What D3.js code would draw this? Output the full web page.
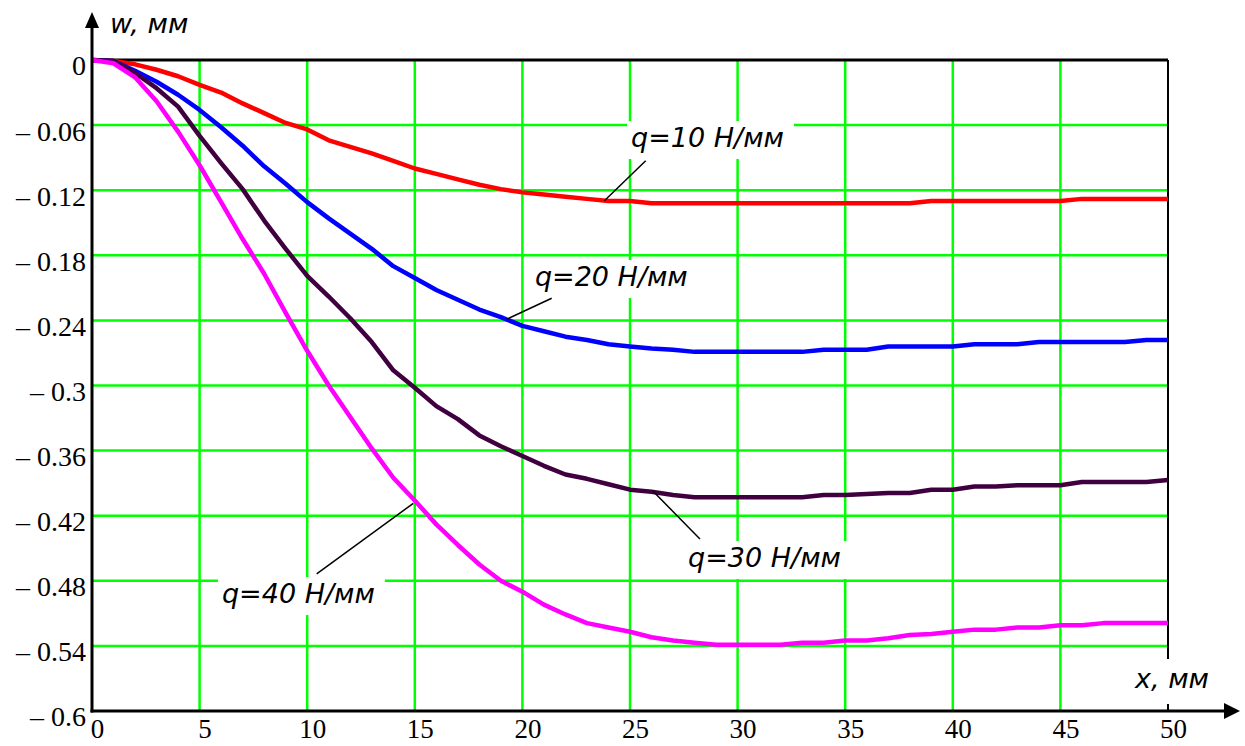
<!DOCTYPE html>
<html>
<head>
<meta charset="utf-8">
<script src="https://cdnjs.cloudflare.com/ajax/libs/d3/7.8.5/d3.min.js"></script>
<style>
body { margin: 0; background: #fff; }
</style>
</head>
<body>
<svg></svg>
<script>
// x, mm
var xValues = [0, 1, 2, 3, 4, 5, 6, 7, 8, 9, 10, 11, 12, 13, 14, 15, 16, 17, 18, 19, 20,
	21, 22, 23, 24, 25, 26, 27, 28, 29, 30, 31, 32, 33, 34, 35, 36, 37, 38, 39, 40,
	41, 42, 43, 44, 45, 46, 47, 48, 49, 50]

// w, mm for each load
var w10 = [0, -0.001, -0.004, -0.009, -0.015, -0.023, -0.030, -0.040, -0.049, -0.058, -0.064,
	-0.074, -0.080, -0.086, -0.093, -0.100, -0.105, -0.110, -0.115, -0.119, -0.122,
	-0.124, -0.126, -0.128, -0.130, -0.130, -0.132, -0.132, -0.132, -0.132, -0.132,
	-0.132, -0.132, -0.132, -0.132, -0.132, -0.132, -0.132, -0.132, -0.130, -0.130,
	-0.130, -0.130, -0.130, -0.130, -0.130, -0.128, -0.128, -0.128, -0.128, -0.128]
var w20 = [0, -0.001, -0.010, -0.020, -0.032, -0.046, -0.062, -0.079, -0.098, -0.114, -0.131,
	-0.146, -0.160, -0.174, -0.190, -0.201, -0.212, -0.221, -0.230, -0.237, -0.245,
	-0.250, -0.255, -0.258, -0.262, -0.264, -0.266, -0.267, -0.269, -0.269, -0.269,
	-0.269, -0.269, -0.269, -0.267, -0.267, -0.267, -0.264, -0.264, -0.264, -0.264,
	-0.262, -0.262, -0.262, -0.260, -0.260, -0.260, -0.260, -0.260, -0.258, -0.258]
var w30 = [0, -0.001, -0.012, -0.026, -0.043, -0.070, -0.095, -0.119, -0.148, -0.174, -0.199,
	-0.218, -0.238, -0.260, -0.286, -0.302, -0.319, -0.331, -0.346, -0.356, -0.365,
	-0.374, -0.382, -0.386, -0.391, -0.396, -0.398, -0.401, -0.403, -0.403, -0.403,
	-0.403, -0.403, -0.403, -0.401, -0.401, -0.400, -0.399, -0.399, -0.396, -0.396,
	-0.393, -0.393, -0.392, -0.392, -0.392, -0.389, -0.389, -0.389, -0.389, -0.387]
var w40 = [0, -0.003, -0.016, -0.038, -0.066, -0.097, -0.131, -0.165, -0.197, -0.233, -0.268,
	-0.300, -0.329, -0.358, -0.385, -0.406, -0.428, -0.447, -0.465, -0.480, -0.490,
	-0.502, -0.511, -0.519, -0.523, -0.527, -0.532, -0.535, -0.537, -0.539, -0.539,
	-0.539, -0.539, -0.537, -0.537, -0.535, -0.535, -0.533, -0.530, -0.529, -0.527,
	-0.525, -0.525, -0.523, -0.523, -0.521, -0.521, -0.519, -0.519, -0.519, -0.519]

var seriesNames = ['q=10 Н/мм', 'q=20 Н/мм', 'q=30 Н/мм', 'q=40 Н/мм']
var seriesColors = ['#ff0000', '#0000ff', '#400040', '#ff00ff']

var xTicks = [0, 5, 10, 15, 20, 25, 30, 35, 40, 45, 50]
var yTicks = [0, -0.06, -0.12, -0.18, -0.24, -0.3, -0.36, -0.42, -0.48, -0.54, -0.6]
var yTickLabels = ['0', '– 0.06', '– 0.12', '– 0.18', '– 0.24', '– 0.3', '– 0.36', '– 0.42', '– 0.48', '– 0.54', '– 0.6']

var width = 1245
var height = 746

var svg = d3.select('svg').attr('width', width).attr('height', height)

var x = d3.scaleLinear().domain([0, 50]).range([92, 1168])
var y = d3.scaleLinear().domain([-0.6, 0]).range([711, 60])

var labelFont = 'DejaVu Sans, Verdana, sans-serif'
var tickFont = 'Liberation Serif, Times New Roman, serif'

// green grid
var gridGroup = svg.append('g').attr('class', 'grid')
gridGroup.selectAll('line.v')
	.data(xTicks.slice(1, -1))
	.enter().append('line')
	.attr('class', 'v')
	.attr('x1', function(d) {return x(d)})
	.attr('x2', function(d) {return x(d)})
	.attr('y1', y(0))
	.attr('y2', y(-0.6))
	.attr('stroke', '#00ff00')
	.attr('stroke-width', 2.5)
gridGroup.selectAll('line.h')
	.data(yTicks.slice(1, -1))
	.enter().append('line')
	.attr('class', 'h')
	.attr('x1', x(0))
	.attr('x2', x(50))
	.attr('y1', function(d) {return y(d)})
	.attr('y2', function(d) {return y(d)})
	.attr('stroke', '#00ff00')
	.attr('stroke-width', 2.5)

// frame: top and right borders
svg.append('line')
	.attr('x1', x(0)).attr('x2', x(50))
	.attr('y1', y(0)).attr('y2', y(0))
	.attr('stroke', '#000').attr('stroke-width', 3)
svg.append('line')
	.attr('x1', x(50)).attr('x2', x(50))
	.attr('y1', y(0)).attr('y2', y(-0.6))
	.attr('stroke', '#000').attr('stroke-width', 2)

// label spots: text start / baseline, leader start, leader end (data units)
var labelSpots = [
	{tx: 25.05, ty: -0.0802, lx: 25.73, ly: -0.0928, ex: 23.81, ey: -0.1297},
	{tx: 20.58, ty: -0.2083, lx: 21.36, ly: -0.2196, ex: 19.27, ey: -0.2390},
	{tx: 27.70, ty: -0.4673, lx: 28.25, ly: -0.4415, ex: 26.05, ey: -0.3970},
	{tx: 6.04, ty: -0.5005, lx: 10.44, ly: -0.4737, ex: 14.93, ey: -0.4086}
]

var labelGroup = svg.append('g').attr('class', 'labels')
labelSpots.forEach(function(spot, i) {
	var g = labelGroup.append('g')
	var box = g.append('rect').attr('fill', '#fff')
	var t = g.append('text')
		.attr('x', x(spot.tx))
		.attr('y', y(spot.ty))
		.attr('font-family', labelFont)
		.attr('font-style', 'italic')
		.attr('font-size', 27)
		.attr('fill', '#000')
		.text(seriesNames[i])
	var bb = t.node().getBBox()
	box.attr('x', bb.x - 4).attr('y', bb.y - 1)
		.attr('width', bb.width + 14).attr('height', bb.height + 7)
})

// x axis title box (covers the right border)
var xTitle = svg.append('g')
var xTitleBox = xTitle.append('rect').attr('fill', '#fff')
var xTitleText = xTitle.append('text')
	.attr('x', 1135).attr('y', 688)
	.attr('font-family', labelFont)
	.attr('font-style', 'italic')
	.attr('font-size', 27)
	.text('x, мм')
var xb = xTitleText.node().getBBox()
xTitleBox.attr('x', xb.x - 6).attr('y', xb.y - 4).attr('width', xb.width + 10).attr('height', xb.height + 14)

svg.append('text')
	.attr('x', 110).attr('y', 33)
	.attr('font-family', labelFont)
	.attr('font-style', 'italic')
	.attr('font-size', 27)
	.text('w, мм')

// curves
var allSeries = [w10, w20, w30, w40]
var line = d3.line()
	.x(function(d, i) {return x(xValues[i])})
	.y(function(d) {return y(d)})

svg.append('g').attr('class', 'curves')
	.selectAll('path')
	.data(allSeries)
	.enter().append('path')
	.attr('d', line)
	.attr('fill', 'none')
	.attr('stroke', function(d, i) {return seriesColors[i]})
	.attr('stroke-width', 4.5)
	.attr('stroke-linejoin', 'round')

// leaders
labelGroup.selectAll('line.leader')
	.data(labelSpots)
	.enter().append('line')
	.attr('class', 'leader')
	.attr('x1', function(d) {return x(d.lx)})
	.attr('y1', function(d) {return y(d.ly)})
	.attr('x2', function(d) {return x(d.ex)})
	.attr('y2', function(d) {return y(d.ey)})
	.attr('stroke', '#000')
	.attr('stroke-width', 1.5)
labelGroup.raise()

// axes with arrows
svg.append('line')
	.attr('x1', x(0)).attr('x2', x(0))
	.attr('y1', y(-0.6) + 1.5).attr('y2', 26)
	.attr('stroke', '#000').attr('stroke-width', 3)
svg.append('path')
	.attr('d', 'M' + (x(0) - 7) + ',28 L' + x(0) + ',12 L' + (x(0) + 7) + ',28 Z')
	.attr('fill', '#000')
svg.append('line')
	.attr('x1', x(0) - 1.5).attr('x2', 1226)
	.attr('y1', y(-0.6)).attr('y2', y(-0.6))
	.attr('stroke', '#000').attr('stroke-width', 3)
svg.append('path')
	.attr('d', 'M1224,' + (y(-0.6) - 8) + ' L1240,' + y(-0.6) + ' L1224,' + (y(-0.6) + 8) + ' Z')
	.attr('fill', '#000')

// tick labels
var yAxis = svg.append('g')
	.attr('transform', 'translate(' + (x(0) - 6) + ',6)')
	.call(d3.axisLeft(y).tickValues(yTicks).tickFormat(function(d, i) {return yTickLabels[i]}).tickSize(0).tickPadding(0))
yAxis.select('.domain').remove()
yAxis.attr('font-family', tickFont).attr('font-size', 28)
yAxis.selectAll('text').attr('fill', '#000')

var xAxis = svg.append('g')
	.attr('transform', 'translate(5,' + y(-0.6) + ')')
	.call(d3.axisBottom(x).tickValues(xTicks).tickFormat(d3.format('d')).tickSize(0).tickPadding(8))
xAxis.select('.domain').remove()
xAxis.attr('font-family', tickFont).attr('font-size', 27)
xAxis.selectAll('text').attr('fill', '#000')
</script>
</body>
</html>
